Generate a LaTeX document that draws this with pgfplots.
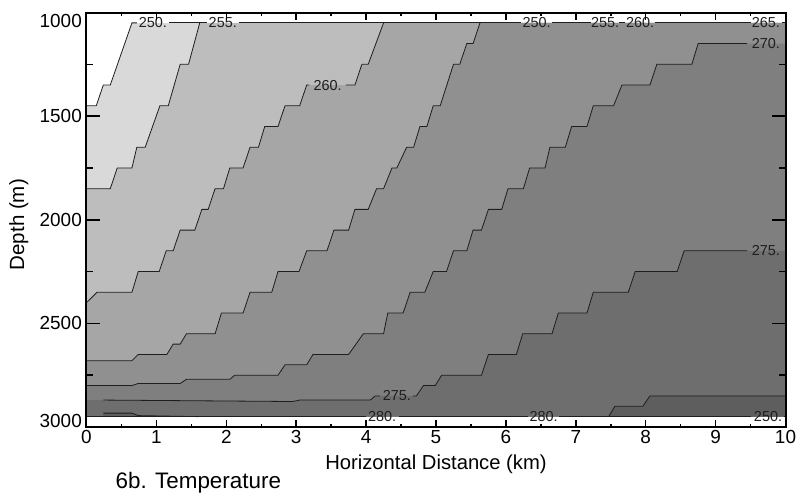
\documentclass[border=0pt]{standalone}
\usepackage{fontspec}
\setmainfont{Liberation Sans}
\usepackage{pgfplots}
\pgfplotsset{compat=1.18}

% grey levels of the temperature bands (K)
\definecolor{t250}{RGB}{217,217,217}
\definecolor{t255}{RGB}{189,189,189}
\definecolor{t260}{RGB}{166,166,166}
\definecolor{t265}{RGB}{144,144,144}
\definecolor{t270}{RGB}{127,127,127}
\definecolor{t275}{RGB}{110,110,110}
\definecolor{t280}{RGB}{94,94,94}
\definecolor{cline}{RGB}{30,30,30}

\tikzset{lab/.style={font=\fontsize{14.5}{14.5}\selectfont, inner sep=0pt, text=cline}}
\pgfplotsset{
  band/.style={draw=none, mark=none},
  contour/.style={draw=cline, line width=0.8bp, mark=none},
}

\begin{document}
\begin{tikzpicture}
\path[use as bounding box] (-86.5bp,-69bp) rectangle (712.5bp,427bp);
\begin{axis}[
  at={(0,0)}, anchor=south west,
  scale only axis, width=699bp, height=414.5bp,
  xmin=0, xmax=10, ymin=1000, ymax=3000, y dir=reverse,
  xtick={0,1,...,10}, ytick={1000,1500,2000,2500,3000},
  yticklabels={\raisebox{-8.5bp}[\height][\depth]{1000},1500,2000,2500,\raisebox{6bp}[\height][\depth]{3000}},
  minor x tick num=1, minor y tick num=1,
  /pgf/number format/assume math mode=true,
  tick label style={font=\fontsize{19}{19}\selectfont, inner sep=0pt},
  xticklabel style={yshift=-3.5bp},
  yticklabel style={xshift=-4.5bp},
  tick style={black, line width=1.5bp},
  xtick style={/pgfplots/major tick length=7.5bp, /pgfplots/minor tick length=3bp},
  ytick style={/pgfplots/major tick length=14bp, /pgfplots/minor tick length=7bp},
  axis line style={line width=2bp},
  axis on top,
  xlabel={Horizontal Distance (km)},
  xlabel style={at={(axis description cs:0.5,-0.102)}, anchor=base,
    font=\fontsize{20.3}{20.3}\selectfont, inner sep=0pt},
  ylabel={Depth (m)},
  ylabel style={at={(axis description cs:-0.0894,0.488)}, anchor=base,
    font=\fontsize{20.6}{20.6}\selectfont, inner sep=0pt},
]
% ---- filled bands, coldest first ----
\addplot[band, fill=t250] coordinates {(0,1050) (10,1050) (10,2950) (0,2950)};
\addplot[band, fill=white] coordinates {(0,1050) (0,1450) (0.14,1450) (0.24,1350) (0.34,1350) (0.65,1050)};
\addplot[band, fill=t255] coordinates {(1.62,1050) (1.46,1250) (1.34,1250) (1.17,1450) (1.05,1450) (0.84,1650) (0.72,1650) (0.65,1750) (0.44,1750) (0.34,1850) (0,1850) (0,2950) (10,2950) (10,1050)};
\addplot[band, fill=t260] coordinates {(4.25,1050) (4.03,1250) (3.94,1250) (3.84,1350) (3.15,1350) (3.05,1450) (2.84,1450) (2.74,1550) (2.55,1550) (2.46,1650) (2.34,1650) (2.24,1750) (2.05,1750) (1.96,1850) (1.84,1850) (1.74,1950) (1.65,1950) (1.55,2050) (1.34,2050) (1.24,2150) (1.14,2150) (1.04,2250) (0.74,2250) (0.65,2350) (0.15,2350) (0,2400) (0,2950) (10,2950) (10,1050)};
\addplot[band, fill=t265] coordinates {(5.63,1050) (5.53,1150) (5.44,1150) (5.34,1250) (5.25,1250) (5.06,1450) (4.96,1450) (4.87,1550) (4.77,1550) (4.68,1650) (4.58,1650) (4.44,1750) (4.37,1750) (4.25,1850) (4.15,1850) (4.03,1950) (3.84,1950) (3.75,2050) (3.54,2050) (3.44,2150) (3.15,2150) (3.04,2250) (2.74,2250) (2.65,2350) (2.34,2350) (2.24,2450) (1.93,2450) (1.84,2550) (1.43,2550) (1.34,2600) (1.24,2600) (1.15,2650) (0.74,2650) (0.65,2680) (0,2680) (0,2950) (10,2950) (10,1050)};
\addplot[band, fill=t270] coordinates {(10,1150) (8.75,1150) (8.66,1250) (8.16,1250) (8.06,1350) (7.66,1350) (7.54,1450) (7.25,1450) (7.16,1550) (6.94,1550) (6.85,1650) (6.63,1650) (6.56,1750) (6.34,1750) (6.25,1850) (6.03,1850) (5.94,1950) (5.75,1950) (5.65,2050) (5.53,2050) (5.44,2150) (5.25,2150) (5.15,2250) (4.96,2250) (4.84,2350) (4.63,2350) (4.53,2450) (4.31,2450) (4.25,2550) (3.96,2550) (3.75,2650) (3.24,2650) (3.15,2700) (2.84,2700) (2.74,2750) (2.12,2750) (2.05,2770) (1.43,2770) (1.34,2790) (0.74,2790) (0.65,2800) (0,2800) (0,2950) (10,2950)};
\addplot[band, fill=t275] coordinates {(10,2150) (8.55,2150) (8.45,2250) (7.85,2250) (7.75,2350) (7.25,2350) (7.16,2450) (6.75,2450) (6.66,2550) (6.24,2550) (6.15,2650) (5.75,2650) (5.65,2750) (5.08,2750) (4.99,2800) (4.82,2800) (4.72,2850) (4.13,2850) (4.06,2870) (3.05,2870) (2.95,2877) (0.24,2870) (0,2870) (0,2950) (10,2950)};
\addplot[band, fill=t280] coordinates {(7.47,2950) (7.56,2900) (7.96,2900) (8.06,2850) (10,2850) (10,2950)};
\addplot[band, fill=t280] coordinates {(0.24,2950) (0.24,2933) (0.65,2933) (0.74,2945) (1.6,2950)};

% ---- contour lines ----
\addplot[contour] coordinates {(0,1450) (0.14,1450) (0.24,1350) (0.34,1350) (0.65,1050) (0.72,1050)};
\addplot[contour] coordinates {(1.18,1050) (1.72,1050)};
\addplot[contour] coordinates {(2.18,1050) (6.22,1050)};
\addplot[contour] coordinates {(6.66,1050) (7.22,1050)};
\addplot[contour] coordinates {(7.62,1050) (7.70,1050)};
\addplot[contour] coordinates {(8.13,1050) (9.50,1050)};
\addplot[contour] coordinates {(9.95,1050) (10,1050)};
\addplot[contour] coordinates {(1.62,1050) (1.46,1250) (1.34,1250) (1.17,1450) (1.05,1450) (0.84,1650) (0.72,1650) (0.65,1750) (0.44,1750) (0.34,1850) (0,1850)};
\addplot[contour] coordinates {(4.25,1050) (4.03,1250) (3.94,1250) (3.84,1350) (3.71,1350)};
\addplot[contour] coordinates {(3.19,1350) (3.15,1350) (3.05,1450) (2.84,1450) (2.74,1550) (2.55,1550) (2.46,1650) (2.34,1650) (2.24,1750) (2.05,1750) (1.96,1850) (1.84,1850) (1.74,1950) (1.65,1950) (1.55,2050) (1.34,2050) (1.24,2150) (1.14,2150) (1.04,2250) (0.74,2250) (0.65,2350) (0.15,2350) (0,2400)};
\addplot[contour] coordinates {(5.63,1050) (5.53,1150) (5.44,1150) (5.34,1250) (5.25,1250) (5.06,1450) (4.96,1450) (4.87,1550) (4.77,1550) (4.68,1650) (4.58,1650) (4.44,1750) (4.37,1750) (4.25,1850) (4.15,1850) (4.03,1950) (3.84,1950) (3.75,2050) (3.54,2050) (3.44,2150) (3.15,2150) (3.04,2250) (2.74,2250) (2.65,2350) (2.34,2350) (2.24,2450) (1.93,2450) (1.84,2550) (1.43,2550) (1.34,2600) (1.24,2600) (1.15,2650) (0.74,2650) (0.65,2680) (0,2680)};
\addplot[contour] coordinates {(9.45,1150) (8.75,1150) (8.66,1250) (8.16,1250) (8.06,1350) (7.66,1350) (7.54,1450) (7.25,1450) (7.16,1550) (6.94,1550) (6.85,1650) (6.63,1650) (6.56,1750) (6.34,1750) (6.25,1850) (6.03,1850) (5.94,1950) (5.75,1950) (5.65,2050) (5.53,2050) (5.44,2150) (5.25,2150) (5.15,2250) (4.96,2250) (4.84,2350) (4.63,2350) (4.53,2450) (4.31,2450) (4.25,2550) (3.96,2550) (3.75,2650) (3.24,2650) (3.15,2700) (2.84,2700) (2.74,2750) (2.12,2750) (2.05,2770) (1.43,2770) (1.34,2790) (0.74,2790) (0.65,2800) (0,2800)};
\addplot[contour] coordinates {(9.45,2150) (8.55,2150) (8.45,2250) (7.85,2250) (7.75,2350) (7.25,2350) (7.16,2450) (6.75,2450) (6.66,2550) (6.24,2550) (6.15,2650) (5.75,2650) (5.65,2750) (5.08,2750) (4.99,2800) (4.82,2800) (4.72,2850) (4.67,2850)};
\addplot[contour] coordinates {(4.20,2850) (4.13,2850) (4.06,2870) (3.05,2870) (2.95,2877) (0.24,2870)};
\addplot[contour] coordinates {(7.47,2950) (7.56,2900) (7.96,2900) (8.06,2850) (10,2850)};
\addplot[contour] coordinates {(0.24,2933) (0.65,2933) (0.74,2945) (1.6,2950)};
\addplot[contour] coordinates {(0,2950) (4.00,2950)};
\addplot[contour] coordinates {(4.47,2950) (6.31,2950)};
\addplot[contour] coordinates {(6.76,2950) (9.51,2950)};
\addplot[contour] coordinates {(9.98,2950) (10,2950)};

% ---- contour labels ----
\node[lab] at (axis cs:0.95,1050) {250.};
\node[lab] at (axis cs:1.95,1050) {255.};
\node[lab] at (axis cs:6.44,1050) {250.};
\node[lab] at (axis cs:7.42,1050) {255.};
\node[lab] at (axis cs:7.92,1050) {260.};
\node[lab] at (axis cs:9.72,1050) {265.};
\node[lab] at (axis cs:3.45,1350) {260.};
\node[lab] at (axis cs:9.72,1150) {270.};
\node[lab] at (axis cs:9.72,2150) {275.};
\node[lab] at (axis cs:4.44,2850) {275.};
\node[lab] at (axis cs:4.23,2950) {280.};
\node[lab] at (axis cs:6.54,2950) {280.};
\node[lab] at (axis cs:9.75,2950) {250.};
\end{axis}
\node[anchor=base west, inner sep=0pt, font=\fontsize{22.5}{22.5}\selectfont] at (29bp,-61bp) {6b. Temperature};
\end{tikzpicture}
\end{document}
